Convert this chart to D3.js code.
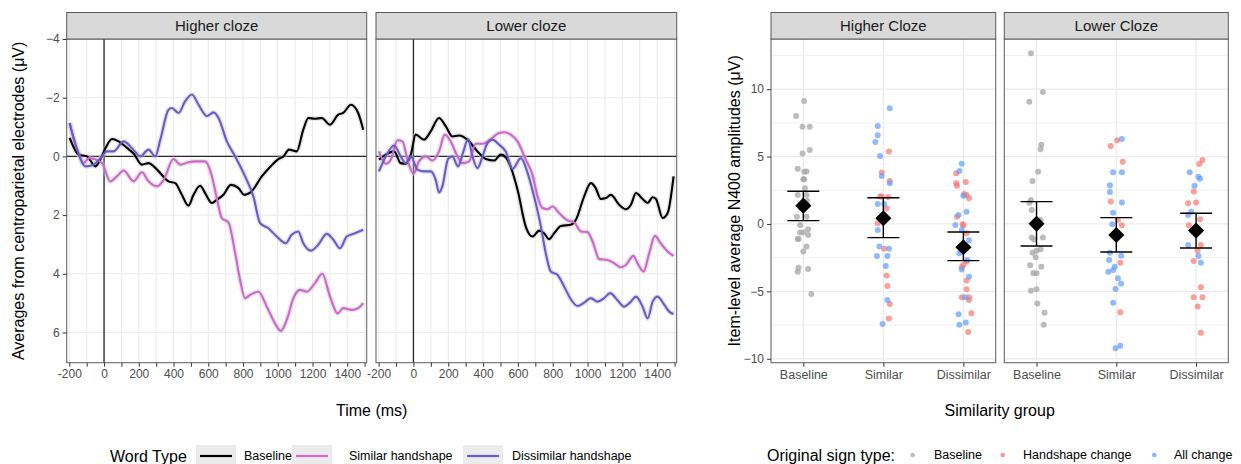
<!DOCTYPE html>
<html>
<head>
<meta charset="utf-8">
<script src="https://cdn.jsdelivr.net/npm/d3@7"></script>
<style>
  body { margin: 0; background: #fff; }
  svg { font-family: "Liberation Sans", Arial, sans-serif; display: block; }
</style>
</head>
<body>
<div id="chart"></div>
<script>
// ---- data: ERP waveforms (time ms, amplitude uV)
var erpPanels = ["Higher cloze", "Lower cloze"];
var wordTypes = ["Baseline", "Similar handshape", "Dissimilar handshape"];
var wordColors = ["#000000", "#d065d0", "#6a5acd"];

var higherBaseline = [[-198,-0.63],[-146,-0.06],[-98,0.0],[-50,0.34],[-21,0.1],[10,-0.3],[46,-0.59],[84,-0.51],[132,-0.29],[170,-0.1],[218,0.28],[256,0.23],[305,0.45],[371,0.85],[410,0.91],[448,1.31],[486,1.68],[515,1.31],[553,1.0],[582,1.25],[621,1.59],[649,1.48],[687,1.31],[730,0.97],[774,1.08],[807,1.31],[845,1.22],[908,0.68],[956,0.36],[1003,0.09],[1033,0.0],[1065,-0.23],[1109,-0.17],[1147,-0.91],[1176,-1.31],[1214,-1.28],[1253,-1.31],[1301,-1.08],[1348,-1.42],[1377,-1.48],[1421,-1.76],[1463,-1.48],[1492,-0.91]];
var higherSimilar = [[-198,-1.14],[-170,-0.5],[-146,-0.11],[-117,0.23],[-88,0.06],[-50,0.1],[-11,0.23],[36,0.85],[74,0.68],[113,0.48],[170,0.85],[218,0.54],[256,0.85],[305,1.02],[343,0.8],[400,0.09],[439,0.28],[486,0.2],[525,0.17],[582,0.17],[621,0.68],[649,1.42],[678,2.1],[716,2.25],[755,3.3],[783,4.21],[812,4.83],[841,4.72],[889,4.61],[937,5.12],[984,5.69],[1018,5.95],[1052,5.57],[1090,4.83],[1128,4.55],[1167,4.61],[1214,4.32],[1256,4.0],[1301,4.78],[1345,5.35],[1377,5.17],[1425,5.23],[1463,5.17],[1492,5.0]];
var higherDissimilar = [[-198,-1.14],[-155,-0.23],[-107,0.34],[-60,0.28],[-21,0.06],[17,-0.17],[55,-0.17],[113,-0.51],[161,-0.28],[209,0.0],[256,-0.23],[295,0.0],[324,-0.57],[371,-1.59],[390,-1.65],[429,-1.48],[467,-1.88],[506,-2.11],[544,-1.76],[592,-1.37],[630,-1.5],[659,-1.31],[707,-0.51],[755,0.0],[812,0.68],[860,1.37],[898,2.27],[946,2.45],[994,2.73],[1046,2.96],[1080,2.67],[1118,2.56],[1147,2.96],[1191,3.21],[1233,3.01],[1282,2.64],[1320,2.84],[1358,3.13],[1397,2.73],[1444,2.62],[1492,2.5]];

var lowerBaseline = [[-198,0.11],[-159,-0.06],[-111,-0.17],[-73,0.23],[-44,0.25],[-15,-0.06],[13,-0.74],[61,-0.57],[99,-0.85],[147,-1.31],[186,-1.02],[224,-0.68],[262,-0.71],[310,-0.57],[368,-0.17],[416,0.09],[463,0.14],[502,-0.06],[540,0.11],[598,1.14],[645,2.39],[684,2.73],[722,2.53],[750,2.62],[779,2.82],[808,2.62],[847,2.37],[904,2.33],[933,2.16],[980,1.37],[1019,0.91],[1047,1.08],[1076,1.45],[1105,1.42],[1134,1.31],[1182,1.65],[1220,1.8],[1249,1.65],[1278,1.25],[1316,1.45],[1345,1.59],[1374,1.39],[1393,1.45],[1431,2.1],[1460,1.93],[1494,0.68]];
var lowerSimilar = [[-198,-0.17],[-159,0.25],[-130,0.11],[-92,-0.55],[-63,-0.51],[-34,0.11],[0,0.59],[32,0.17],[71,0.0],[109,0.14],[147,-0.17],[180,-0.74],[214,-0.51],[253,0.0],[281,0.23],[320,0.17],[358,-0.43],[397,-0.43],[444,-0.59],[492,-0.8],[521,-0.82],[559,-0.74],[598,-0.51],[645,0.11],[684,0.63],[713,1.37],[741,1.76],[770,1.8],[799,1.71],[837,1.93],[885,2.18],[923,2.25],[962,2.56],[1000,2.58],[1029,2.9],[1067,3.5],[1115,3.53],[1153,3.64],[1191,3.78],[1220,3.7],[1264,3.39],[1287,3.64],[1322,3.92],[1354,3.3],[1387,2.71],[1420,2.96],[1460,3.24],[1494,3.39]];
var lowerDissimilar = [[-198,0.51],[-159,0.0],[-111,-0.37],[-73,0.0],[-44,0.23],[-15,0.0],[23,0.45],[61,0.51],[99,0.51],[128,0.8],[147,1.23],[166,1.02],[199,0.09],[224,0.0],[256,0.34],[287,-0.17],[314,-0.59],[339,0.0],[368,0.4],[397,0.0],[425,-0.45],[454,-0.57],[492,-0.4],[530,-0.17],[569,0.43],[617,0.06],[656,0.57],[693,1.37],[732,2.39],[760,3.3],[789,3.92],[828,4.04],[866,4.44],[904,4.87],[943,5.1],[981,4.98],[1019,4.83],[1057,4.95],[1095,4.83],[1130,4.66],[1172,4.9],[1210,5.12],[1249,4.95],[1278,4.78],[1316,5.12],[1345,5.52],[1374,4.95],[1402,4.78],[1441,5.06],[1469,5.29],[1494,5.37]];

var timeTicks = d3.range(-200, 1501, 100);
var timeLabels = d3.range(-200, 1401, 200);
var uvTicks = [-4, -2, 0, 2, 4, 6];

// ---- data: item-level N400 (jitter in category units, amplitude uV)
var clozePanels = ["Higher Cloze", "Lower Cloze"];
var simGroups = ["Baseline", "Similar", "Dissimilar"];
var signTypes = ["Baseline", "Handshape change", "All change"];
var signColors = ["#a6a6a6", "#f8766d", "#619cff"];

var hiBaseline = [[0.01,9.12],[-0.09,8.01],[-0.01,7.22],[0.08,7.22],[0.08,5.49],[-0.01,5.22],[-0.07,4.1],[0.01,3.88],[0.04,3.9],[0,3.31],[0.01,3.31],[0.02,2.65],[-0.07,2.15],[0.04,2.15],[0.05,1.7],[-0.03,1.2],[-0.08,0.54],[0.04,0.54],[-0.04,-0.07],[0.06,-0.4],[-0.04,-0.64],[0,-0.64],[0.06,-0.82],[-0.07,-1.11],[-0.06,-1.11],[0.04,-1.68],[0,-2.05],[-0.06,-3.24],[-0.07,-3.54],[0.06,-3.34],[0.1,-5.19]];
var hiSimilarHand = [[0.07,5.37],[-0.02,3.81],[0.08,3.19],[-0.02,2.03],[-0.04,2.03],[0.06,2.0],[0.04,1.16],[-0.07,0.05],[0.01,-1.83],[0.04,-3.83],[0.05,-4.6],[0.08,-5.93],[0.07,-7.02]];
var hiSimilarAll = [[0.08,8.58],[-0.07,7.27],[-0.07,6.58],[-0.1,6.08],[-0.04,5.04],[-0.02,3.56],[0.08,3.02],[-0.07,1.48],[0.01,1.48],[-0.07,-0.45],[-0.05,-1.68],[0.07,-1.83],[-0.08,-2.37],[0.05,-2.37],[0.03,-3.12],[0.05,-5.64],[-0.01,-7.42]];
var hiDissimilarHand = [[-0.09,3.76],[0.03,3.12],[-0.09,3.02],[-0.08,2.84],[0.01,2.23],[0.04,2.15],[0.07,1.9],[-0.08,0.54],[-0.01,-0.02],[0.0,-0.12],[0.04,-0.69],[0.04,-2.79],[0.0,-3.04],[-0.02,-3.21],[0.04,-4.2],[0.04,-4.85],[-0.02,-5.44],[0.07,-5.44],[0.07,-5.64],[0.1,-6.63],[0.06,-8.01]];
var hiDissimilarAll = [[-0.02,4.47],[-0.05,3.93],[0.0,2.1],[-0.06,0.66],[0.04,0.91],[-0.1,-0.07],[-0.02,-0.45],[0.07,-1.2],[-0.05,-2.17],[0.05,-2.67],[-0.02,-3.37],[0.07,-3.91],[0.02,-5.44],[-0.06,-6.7],[-0.05,-7.47],[0.03,-7.3]];

var loBaseline = [[-0.07,12.66],[0.08,9.79],[-0.09,9.07],[0.06,5.88],[0.05,5.54],[0.02,3.88],[-0.05,3.19],[-0.07,1.78],[-0.09,1.58],[-0.06,1.04],[0.05,0.3],[0.08,-1.01],[-0.06,-1.01],[-0.03,-1.16],[0.05,-1.88],[0.0,-1.98],[-0.05,-2.13],[-0.01,-2.47],[-0.08,-3.07],[0.06,-3.17],[-0.04,-3.66],[0.0,-3.66],[-0.07,-4.95],[0.0,-4.85],[0.01,-5.89],[0.1,-6.58],[0.09,-7.47]];
var loSimilarHand = [[-0.07,5.79],[0.01,6.21],[0.08,4.62],[-0.07,1.66],[0.02,0.3],[0.07,-0.1],[0.05,-2.87],[0.05,-6.55]];
var loSimilarAll = [[0.07,6.31],[-0.04,3.83],[0.07,3.83],[-0.08,2.87],[-0.08,2.37],[0.07,1.6],[-0.04,0.84],[-0.05,-0.02],[-0.08,-2.13],[0.06,-2.35],[-0.09,-2.67],[-0.02,-3.17],[-0.04,-3.42],[-0.1,-3.54],[0.02,-4.03],[0.06,-4.43],[-0.01,-4.82],[-0.04,-5.84],[0.05,-9.03],[-0.01,-9.22]];
var loDissimilarHand = [[0.08,4.75],[0.04,4.45],[-0.03,2.4],[-0.1,1.53],[0.0,1.6],[0.05,0.35],[-0.09,-0.1],[0.06,-1.56],[0.02,-1.98],[-0.03,-2.74],[0.06,-4.7],[-0.03,-5.44],[0.08,-5.44],[0.02,-6.13],[0.06,-8.06]];
var loDissimilarAll = [[-0.08,3.83],[0.03,3.51],[0.05,3.36],[-0.02,2.84],[-0.06,0.91],[-0.1,0.66],[-0.1,-1.56],[0.03,-2.37],[0.06,-2.87]];

// group means and error bar limits (Baseline, Similar, Dissimilar)
var hiMean = [1.36, 0.42, -1.73];
var hiLower = [0.25, -1.01, -2.72];
var hiUpper = [2.43, 1.95, -0.59];
var loMean = [0.02, -0.82, -0.49];
var loLower = [-1.63, -2.08, -1.78];
var loUpper = [1.66, 0.47, 0.79];

var n400Ticks = [-10, -5, 0, 5, 10];
var n400Minor = [-7.5, -2.5, 2.5, 7.5, 12.5];

// ---- layout
var W = 1241, H = 464;
var stripTop = 12.5, panelTop = 39, panelBottom = 362.7;
var grid = "#ebebeb", border = "#5a5a5a", tickText = "#4d4d4d";

var svg = d3.select("#chart").append("svg")
    .attr("width", W)
    .attr("height", H);

function drawPanelFrame(x0, x1, title) {
    svg.append("rect")
        .attr("x", x0).attr("y", stripTop)
        .attr("width", x1 - x0).attr("height", panelTop - stripTop)
        .attr("fill", "#d9d9d9")
        .attr("stroke", border).attr("stroke-width", 1);
    svg.append("text")
        .attr("x", (x0 + x1) / 2).attr("y", (stripTop + panelTop) / 2)
        .attr("dy", "0.36em")
        .attr("text-anchor", "middle")
        .style("font-size", "15px")
        .attr("fill", "#1a1a1a")
        .text(title);
}

function drawBorder(x0, x1) {
    svg.append("rect")
        .attr("x", x0).attr("y", panelTop)
        .attr("width", x1 - x0).attr("height", panelBottom - panelTop)
        .attr("fill", "none")
        .attr("stroke", border).attr("stroke-width", 1);
}

// ================= left chart: ERP waveforms =================
var erpX = [[66.7, 366.7], [376, 676.7]];
var erpSeries = [
    [higherBaseline, higherSimilar, higherDissimilar],
    [lowerBaseline, lowerSimilar, lowerDissimilar]
];

var yErp = d3.scaleLinear()
    .domain([-4, 7.03])
    .range([panelTop, panelBottom]);

erpPanels.forEach(function(name, p) {
    var x = d3.scaleLinear()
        .domain([-215, 1512])
        .range(erpX[p]);

    var g = svg.append("g");

    // grid
    g.selectAll(".vg").data(timeTicks).enter().append("line")
        .attr("x1", function(d) { return x(d); })
        .attr("x2", function(d) { return x(d); })
        .attr("y1", panelTop).attr("y2", panelBottom)
        .attr("stroke", grid).attr("stroke-width", 1.1);
    g.selectAll(".hg").data(uvTicks).enter().append("line")
        .attr("x1", erpX[p][0]).attr("x2", erpX[p][1])
        .attr("y1", function(d) { return yErp(d); })
        .attr("y2", function(d) { return yErp(d); })
        .attr("stroke", grid).attr("stroke-width", 1.1);

    // zero lines
    g.append("line")
        .attr("x1", erpX[p][0]).attr("x2", erpX[p][1])
        .attr("y1", yErp(0)).attr("y2", yErp(0))
        .attr("stroke", "#262626").attr("stroke-width", 1.3);
    g.append("line")
        .attr("x1", x(0)).attr("x2", x(0))
        .attr("y1", panelTop).attr("y2", panelBottom)
        .attr("stroke", "#262626").attr("stroke-width", 1.3);

    var line = d3.line()
        .curve(d3.curveMonotoneX)
        .x(function(d) { return x(d[0]); })
        .y(function(d) { return yErp(d[1]); });

    // soft grey ribbon under each wave
    erpSeries[p].forEach(function(s) {
        g.append("path").datum(s)
            .attr("d", line)
            .attr("fill", "none")
            .attr("stroke", "#c8c8c8")
            .attr("stroke-opacity", 0.45)
            .attr("stroke-width", 5)
            .attr("stroke-linejoin", "round");
    });
    erpSeries[p].forEach(function(s, i) {
        g.append("path").datum(s)
            .attr("d", line)
            .attr("fill", "none")
            .attr("stroke", wordColors[i])
            .attr("stroke-width", 2.1)
            .attr("stroke-linejoin", "round");
    });

    drawBorder(erpX[p][0], erpX[p][1]);
    drawPanelFrame(erpX[p][0], erpX[p][1], name);

    // x axis
    var xa = g.append("g")
        .attr("transform", "translate(0," + panelBottom + ")")
        .call(d3.axisBottom(x).tickValues(timeTicks).tickSize(4).tickPadding(3)
            .tickFormat(function(d) { return timeLabels.indexOf(d) >= 0 ? d : ""; }));
    xa.select(".domain").remove();
    xa.selectAll("line").attr("stroke", "#333").attr("stroke-width", 1);
    xa.selectAll("text").attr("fill", tickText)
        .style("font-size", "12px").style("font-family", "Liberation Sans, Arial, sans-serif");
});

// left y axis
var ya = svg.append("g")
    .attr("transform", "translate(" + erpX[0][0] + ",0)")
    .call(d3.axisLeft(yErp).tickValues(uvTicks).tickSize(4).tickPadding(3));
ya.select(".domain").remove();
ya.selectAll("line").attr("stroke", "#333");
ya.selectAll("text").attr("fill", tickText)
    .style("font-size", "12px").style("font-family", "Liberation Sans, Arial, sans-serif");

svg.append("text")
    .attr("transform", "translate(18," + ((panelTop + panelBottom) / 2) + ") rotate(-90)")
    .attr("text-anchor", "middle")
    .attr("dy", "0.35em")
    .style("font-size", "16px")
    .text("Averages from centroparietal electrodes (\u03bcV)");

svg.append("text")
    .attr("x", (erpX[0][0] + erpX[1][1]) / 2).attr("y", 410)
    .attr("text-anchor", "middle").attr("dy", "0.35em")
    .style("font-size", "16px")
    .text("Time (ms)");

// left legend
var legY = 456;
svg.append("text")
    .attr("x", 110).attr("y", legY).attr("dy", "0.35em")
    .style("font-size", "16px")
    .text("Word Type");
var keyX = [196, 292, 463];
var labX = [244, 349, 512];
wordTypes.forEach(function(w, i) {
    svg.append("rect")
        .attr("x", keyX[i]).attr("y", legY - 11)
        .attr("width", 40).attr("height", 22)
        .attr("fill", "#ebebeb");
    svg.append("line")
        .attr("x1", keyX[i] + 4).attr("x2", keyX[i] + 36)
        .attr("y1", legY).attr("y2", legY)
        .attr("stroke", wordColors[i]).attr("stroke-width", 2.2);
    svg.append("text")
        .attr("x", labX[i]).attr("y", legY).attr("dy", "0.35em")
        .style("font-size", "12.5px")
        .text(w);
});

// ================= right chart: item-level N400 =================
var n4X = [[771, 995.7], [1004.3, 1228.3]];
var yN4 = d3.scaleLinear()
    .domain([-10.29, 13.72])
    .range([panelBottom, panelTop]);

var n4Points = [
    [[hiBaseline], [hiSimilarHand, hiSimilarAll], [hiDissimilarHand, hiDissimilarAll]],
    [[loBaseline], [loSimilarHand, loSimilarAll], [loDissimilarHand, loDissimilarAll]]
];
var n4Stats = [[hiMean, hiLower, hiUpper], [loMean, loLower, loUpper]];

clozePanels.forEach(function(name, p) {
    var x = d3.scalePoint()
        .domain(simGroups)
        .range(n4X[p])
        .padding(0.404);
    var step = x.step();

    var g = svg.append("g");

    g.selectAll(".mg").data(n400Minor).enter().append("line")
        .attr("x1", n4X[p][0]).attr("x2", n4X[p][1])
        .attr("y1", function(d) { return yN4(d); })
        .attr("y2", function(d) { return yN4(d); })
        .attr("stroke", "#f2f2f2").attr("stroke-width", 1);
    g.selectAll(".hg").data(n400Ticks).enter().append("line")
        .attr("x1", n4X[p][0]).attr("x2", n4X[p][1])
        .attr("y1", function(d) { return yN4(d); })
        .attr("y2", function(d) { return yN4(d); })
        .attr("stroke", grid).attr("stroke-width", 1.2);
    g.selectAll(".vg").data(simGroups).enter().append("line")
        .attr("x1", function(d) { return x(d); })
        .attr("x2", function(d) { return x(d); })
        .attr("y1", panelTop).attr("y2", panelBottom)
        .attr("stroke", grid).attr("stroke-width", 1.2);

    // jittered item points
    n4Points[p].forEach(function(sets, gi) {
        sets.forEach(function(pts, si) {
            var colour = gi === 0 ? signColors[0] : signColors[si + 1];
            g.selectAll(null).data(pts).enter().append("circle")
                .attr("cx", function(d) { return x(simGroups[gi]) + d[0] * step; })
                .attr("cy", function(d) { return yN4(d[1]); })
                .attr("r", 3)
                .attr("fill", colour)
                .attr("fill-opacity", gi === 0 ? 0.75 : 0.7);
        });
    });

    // error bars
    var st = n4Stats[p];
    simGroups.forEach(function(grp, gi) {
        var cx = x(grp);
        g.append("line")
            .attr("x1", cx).attr("x2", cx)
            .attr("y1", yN4(st[1][gi])).attr("y2", yN4(st[2][gi]))
            .attr("stroke", "#000").attr("stroke-width", 1.4);
        [st[1][gi], st[2][gi]].forEach(function(v) {
            g.append("line")
                .attr("x1", cx - 16).attr("x2", cx + 16)
                .attr("y1", yN4(v)).attr("y2", yN4(v))
                .attr("stroke", "#000").attr("stroke-width", 1.4);
        });
        g.append("path")
            .attr("d", d3.symbol().type(d3.symbolSquare).size(130)())
            .attr("transform", "translate(" + cx + "," + yN4(st[0][gi]) + ") rotate(45)")
            .attr("fill", "#000");
    });

    drawBorder(n4X[p][0], n4X[p][1]);
    drawPanelFrame(n4X[p][0], n4X[p][1], name);

    var xa = g.append("g")
        .attr("transform", "translate(0," + panelBottom + ")")
        .call(d3.axisBottom(x).tickSize(4).tickPadding(3));
    xa.select(".domain").remove();
    xa.selectAll("line").attr("stroke", "#333");
    xa.selectAll("text").attr("fill", tickText)
        .style("font-size", "12.5px").style("font-family", "Liberation Sans, Arial, sans-serif");
});

var ya2 = svg.append("g")
    .attr("transform", "translate(" + n4X[0][0] + ",0)")
    .call(d3.axisLeft(yN4).tickValues(n400Ticks).tickSize(4).tickPadding(3));
ya2.select(".domain").remove();
ya2.selectAll("line").attr("stroke", "#333");
ya2.selectAll("text").attr("fill", tickText)
    .style("font-size", "12px").style("font-family", "Liberation Sans, Arial, sans-serif");

svg.append("text")
    .attr("transform", "translate(734," + ((panelTop + panelBottom) / 2) + ") rotate(-90)")
    .attr("text-anchor", "middle")
    .attr("dy", "0.35em")
    .style("font-size", "16px")
    .text("Item-level average N400 amplitudes (\u03bcV)");

svg.append("text")
    .attr("x", (n4X[0][0] + n4X[1][1]) / 2).attr("y", 410)
    .attr("text-anchor", "middle").attr("dy", "0.35em")
    .style("font-size", "16px")
    .text("Similarity group");

// right legend
svg.append("text")
    .attr("x", 767).attr("y", 455).attr("dy", "0.35em")
    .style("font-size", "16px")
    .text("Original sign type:");
var dotX = [912.7, 1002.7, 1154.3];
var dotLab = [934, 1023, 1174];
signTypes.forEach(function(s, i) {
    svg.append("circle")
        .attr("cx", dotX[i]).attr("cy", 455)
        .attr("r", 2.3)
        .attr("fill", signColors[i]).attr("fill-opacity", 0.75);
    svg.append("text")
        .attr("x", dotLab[i]).attr("y", 455).attr("dy", "0.35em")
        .style("font-size", "12.5px")
        .text(s);
});
</script>
</body>
</html>
